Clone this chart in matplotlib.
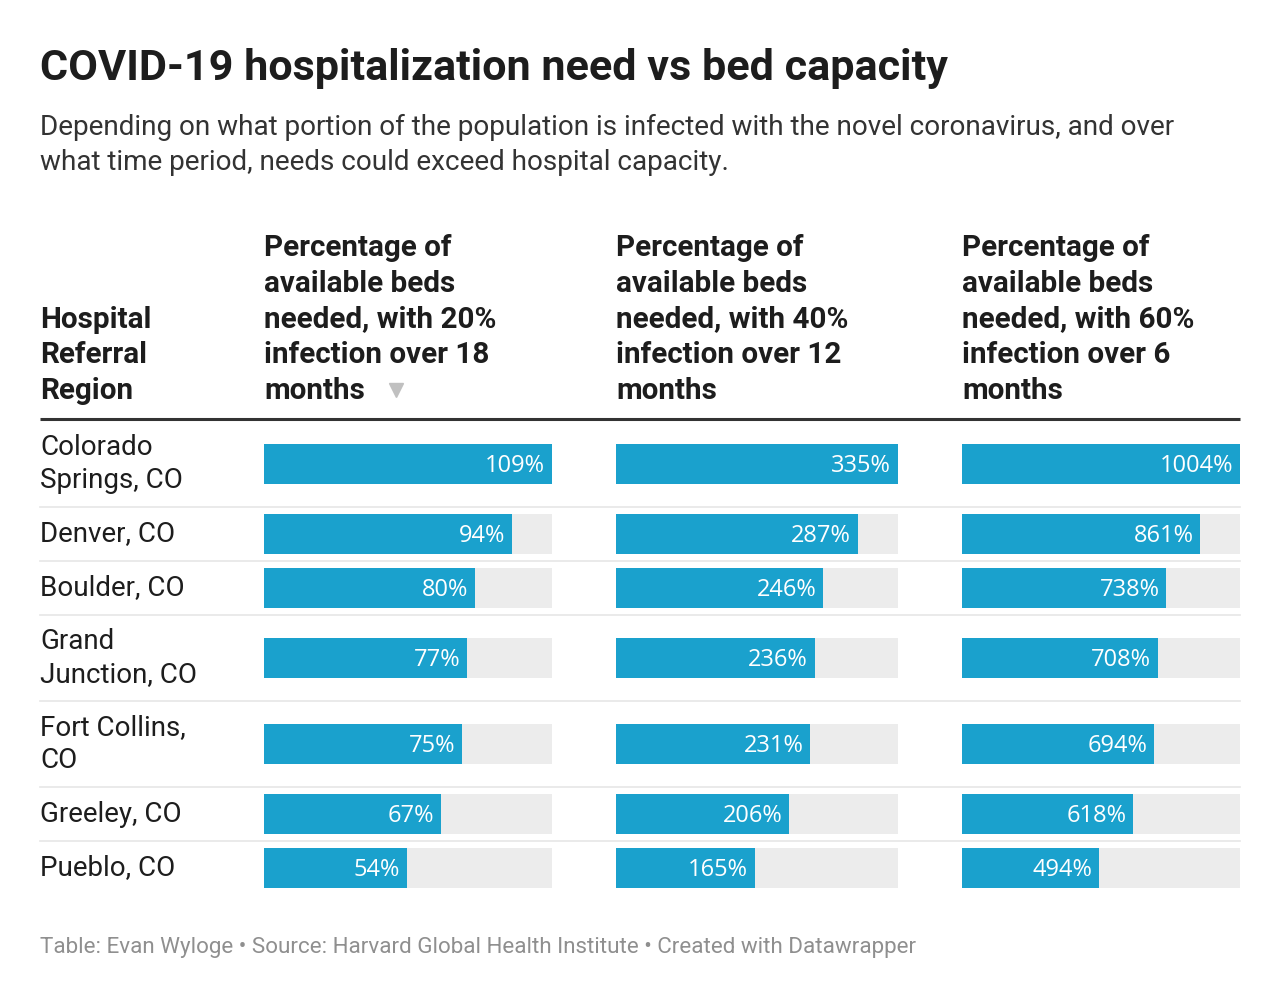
import matplotlib.pyplot as plt
import matplotlib as mpl

mpl.rcParams['font.family'] = ['Roboto', 'DejaVu Sans']

# data
regions = ['Colorado\nSprings, CO', 'Denver, CO', 'Boulder, CO', 'Grand\nJunction, CO',
           'Fort Collins,\nCO', 'Greeley, CO', 'Pueblo, CO']
pct_20_18 = [109, 94, 80, 77, 75, 67, 54]
pct_40_12 = [335, 287, 246, 236, 231, 206, 165]
pct_60_6 = [1004, 861, 738, 708, 694, 618, 494]
col_heads = ['Percentage of\navailable beds\nneeded, with 20%\ninfection over 18\nmonths',
             'Percentage of\navailable beds\nneeded, with 40%\ninfection over 12\nmonths',
             'Percentage of\navailable beds\nneeded, with 60%\ninfection over 6\nmonths']

W, H = 1280, 1000
fig = plt.figure(figsize=(W / 100, H / 100), dpi=100)

def fx(px):
    return px / W

def fy(py):
    return 1 - py / H

BLUE = '#1aa1cd'
GRAY = '#ececec'
DARK = '#1d1d1d'

fig.text(fx(40), fy(80), 'COVID-19 hospitalization need vs bed capacity',
         fontsize=31.05, fontweight='bold', color=DARK, va='baseline')
fig.text(fx(40), fy(170), 'Depending on what portion of the population is infected with the novel coronavirus, and over\n'
         'what time period, needs could exceed hospital capacity.',
         fontsize=20.1, color='#333333', va='baseline', linespacing=1.38)

# header
fig.text(fx(40), fy(399), 'Hospital\nReferral\nRegion', fontsize=21.3, fontweight='bold',
         color=DARK, va='baseline', linespacing=1.35)
col_x = [264, 616, 962]
col_r = [552, 898, 1240]
for x, t in zip(col_x, col_heads):
    fig.text(fx(x), fy(399), t, fontsize=21.3, fontweight='bold', color=DARK,
             va='baseline', linespacing=1.35)

# row layout
top = 421
row_h = [86 if '\n' in r else 54 for r in regions]
tops = [top]
for h in row_h:
    tops.append(tops[-1] + h)
centers = [(tops[i] + tops[i + 1]) / 2 for i in range(len(regions))]
bottom = tops[-1]

line_ax = fig.add_axes([0, 0, 1, 1], zorder=0)
line_ax.set_xlim(0, W)
line_ax.set_ylim(H, 0)
line_ax.axis('off')
line_ax.plot([40, 1240], [419, 419], color='#333333', lw=2.2, solid_capstyle='butt')
for yy in tops[1:-1]:
    line_ax.plot([40, 1240], [yy, yy], color='#e6e6e6', lw=1.2)
# sort indicator
line_ax.plot([396], [390], marker='v', markersize=10, color='#c0c0c0', linestyle='none')

for i, r in enumerate(regions):
    fig.text(fx(40), fy(centers[i]), r, fontsize=20, color=DARK, va='center', linespacing=1.28)

for vals, x0, x1 in zip([pct_20_18, pct_40_12, pct_60_6], col_x, col_r):
    ax = fig.add_axes([fx(x0), fy(bottom), fx(x1 - x0), (bottom - top) / H], zorder=1)
    mx = max(vals)
    ax.barh(centers, [mx] * len(vals), height=40, color=GRAY)
    ax.barh(centers, vals, height=40, color=BLUE)
    for c, v in zip(centers, vals):
        ax.text(v - mx * 0.024, c + 2, f'{v}%', color='white', fontsize=17, ha='right', va='center',
                family=['Open Sans', 'DejaVu Sans'])
    ax.set_xlim(0, mx)
    ax.set_ylim(bottom, top)
    ax.axis('off')

fig.text(fx(40), fy(953), 'Table: Evan Wyloge \u2022 Source: Harvard Global Health Institute \u2022 Created with Datawrapper',
         fontsize=16.15, color='#8f8f8f', va='baseline')

fig.savefig('out.png', dpi=100, facecolor='white')
